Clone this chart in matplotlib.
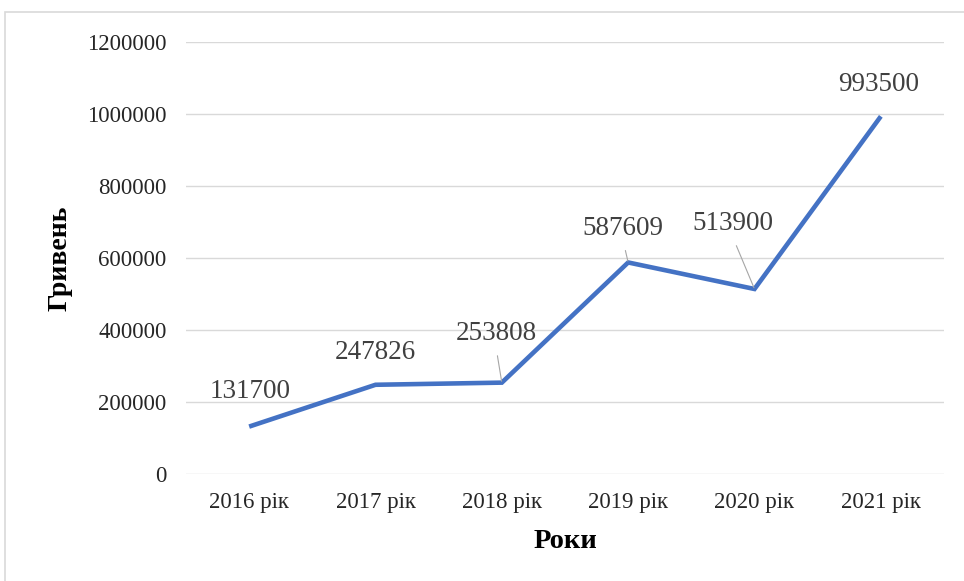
import matplotlib
matplotlib.use("Agg")
import matplotlib.pyplot as plt
from matplotlib.patches import Rectangle

years = ["2016 рік", "2017 рік", "2018 рік", "2019 рік", "2020 рік", "2021 рік"]
values = [131700, 247826, 253808, 587609, 513900, 993500]
yticks = [0, 200000, 400000, 600000, 800000, 1000000, 1200000]

plt.rcParams['font.family'] = ['Liberation Serif', 'DejaVu Serif']

W, H = 964, 581
fig = plt.figure(figsize=(W / 100, H / 100), dpi=100)
ax = fig.add_axes([186 / W, 1 - 474 / H, (944 - 186) / W, (474 - 42) / H])

x = list(range(len(years)))
ax.plot(x, values, color='#4472C4', lw=3.3, solid_joinstyle='miter', solid_capstyle='butt', zorder=3)

ax.set_xlim(-0.5, len(years) - 0.5)
ax.set_ylim(0, 1200000)
ax.set_yticks(yticks)
ax.set_yticklabels([str(v) for v in yticks], fontsize=16.5, color='#262626')
ax.set_xticks(x)
ax.set_xticklabels(years, fontsize=16.5, color='#262626')
ax.tick_params(axis='both', length=0)
ax.tick_params(axis='y', pad=14)
ax.tick_params(axis='x', pad=13)
ax.grid(axis='y', color='#d9d9d9', lw=1.0)
ax.set_axisbelow(True)
for s in ax.spines.values():
    s.set_visible(False)

fig.text(60 / W, 1 - 258 / H, "Гривень", rotation=90, ha='center', va='center',
         fontsize=20, fontweight='bold', color='black')
fig.text(565 / W, 1 - 541 / H, "Роки", ha='center', va='center',
         fontsize=20.5, fontweight='bold', color='black')

# data label offsets in pixels (dx, dy) and whether a leader line is drawn
offsets = [(1, 35), (0, 32), (-6, 49), (-5, 34), (-22, 65), (-2, 32)]
leaders = [False, False, True, True, True, False]
for xi, v, (dx, dy), ld in zip(x, values, offsets, leaders):
    ap = None
    if ld:
        ap = dict(arrowstyle='-', color='#a6a6a6', lw=0.8, shrinkA=5, shrinkB=1,
                  relpos=(0.5, 0.0) if dx > -10 else (0.5, 0.0))
    ax.annotate(str(v), (xi, v), xytext=(dx, dy), textcoords='offset pixels',
                ha='center', va='center', fontsize=19.5, color='#404040',
                arrowprops=ap, zorder=4)

fig.patches.append(Rectangle((5 / W, -0.05), 1.0, 1 + 0.05 - 12 / H,
                             transform=fig.transFigure, fill=False,
                             edgecolor='#d9d9d9', lw=1.2))

fig.savefig("out.png", dpi=100, facecolor='white')
